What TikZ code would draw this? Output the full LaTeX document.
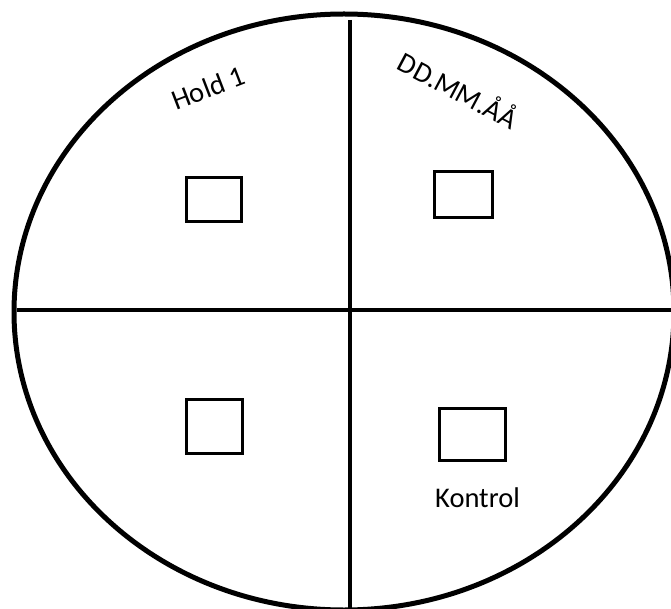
\documentclass[tikz,border=0pt]{standalone}
\usepackage{fontspec}
\setmainfont{Carlito}
\usetikzlibrary{positioning}

\begin{document}
\begin{tikzpicture}[x=1pt,y=-1pt,font=\fontsize{28.5}{31}\selectfont,
    dish/.style={line width=5pt},
    divider/.style={line width=3.5pt},
    well/.style={draw,line width=3pt,inner sep=0pt},
    tag/.style={inner sep=0pt}]
        \useasboundingbox (0,0) rectangle (671,609);

        % plate and quarters
        \draw[dish] (344,312) ellipse [x radius=330pt, y radius=298pt];
        \draw[divider] (350,20) -- (350,612);
        \draw[divider] (17,310) -- (672,310);

        % wells
        \node[well, minimum width=55pt, minimum height=44pt] (w1) at (214,199.5) {};
        \node[well, minimum width=58pt, minimum height=46pt] (w2) at (463.5,194.5) {};
        \node[well, minimum width=56pt, minimum height=54pt] (w3) at (214.5,426.5) {};
        \node[well, minimum width=66pt, minimum height=52pt] (w4) at (472.5,434.5) {};

        % labels
        \node[tag, rotate=21]  (hold)    at (208,88)  {Hold 1};
        \node[tag, rotate=-28] (dato)    at (459,89)  {DD.MM.ÅÅ};
        \node[tag] (kontrol) [below=26pt of w4, xshift=5pt] {Kontrol};
\end{tikzpicture}
\end{document}
